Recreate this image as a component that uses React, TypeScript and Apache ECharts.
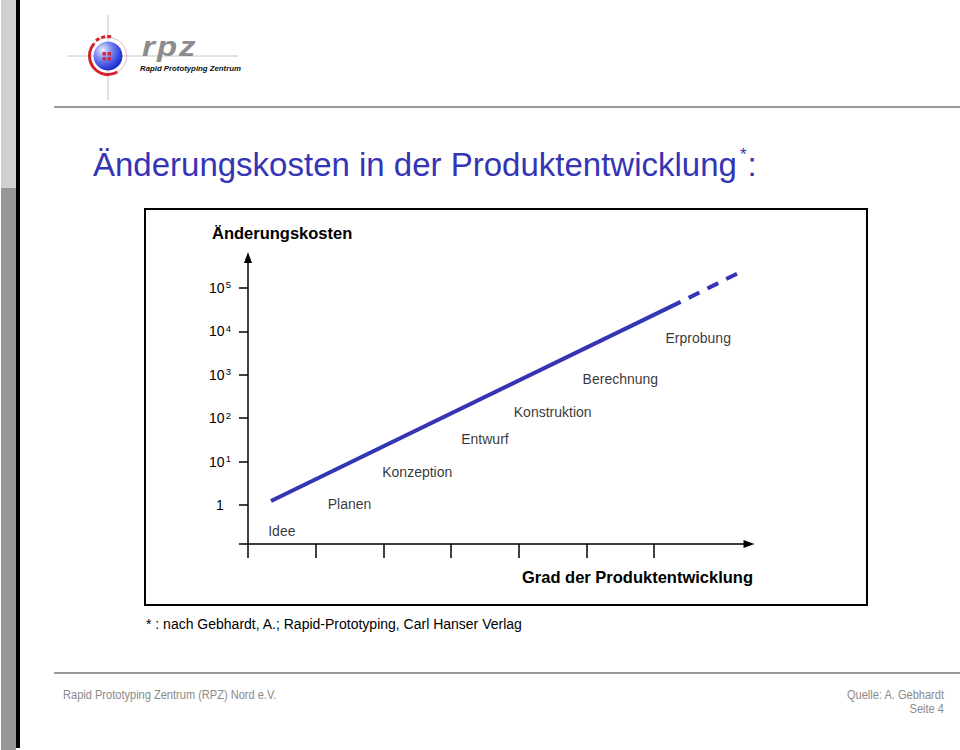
import React, { useEffect, useRef } from 'react';
import * as echarts from 'echarts';

const FONT = '"Liberation Sans", Arial, Helvetica, sans-serif';
const BLUE = '#3434b4';

// phases of product development (labels placed along the staircase)
const phases = ['Idee', 'Planen', 'Konzeption', 'Entwurf', 'Konstruktion', 'Berechnung', 'Erprobung'];
const phaseX = [0.5, 1.5, 2.5, 3.5, 4.5, 5.5, 6.65];
// label height on the cost axis, in powers of ten
const phaseY = [-0.6, 0.02, 0.76, 1.52, 2.14, 2.9, 3.85];

// change cost curve: degree of development vs. log10(cost)
const costX = [0.34, 6.39];
const costExp = [0.09, 4.68];
// extrapolated (dashed) part
const outlookX = [6.39, 7.25];
const outlookExp = [4.68, 5.35];

const yTickValues = [0, 1, 2, 3, 4, 5];
const xTickValues = [0, 1, 2, 3, 4, 5, 6];
const X_MIN = 0;
const X_MAX = 7.4;
const Y_MIN = -0.9;
const Y_MAX = 5.7;

export default function App() {
  const ref = useRef<HTMLDivElement>(null);

  useEffect(() => {
    if (!ref.current) return;
    const chart = echarts.init(ref.current, undefined, { renderer: 'svg' });

    const logoFont = `italic bold 27px ${FONT}`;
    const footFont = `13.5px ${FONT}`;

    const graphic: any[] = [
      // left decorative strips
      { type: 'rect', shape: { x: 1, y: 0, width: 15, height: 188 }, style: { fill: '#d0d0d0' }, silent: true },
      { type: 'rect', shape: { x: 1, y: 188, width: 15, height: 562 }, style: { fill: '#969696' }, silent: true },
      { type: 'rect', shape: { x: 16, y: 0, width: 4, height: 748 }, style: { fill: '#000' }, silent: true },
      // header line & footer line
      { type: 'line', shape: { x1: 54, y1: 107, x2: 960, y2: 107 }, style: { stroke: '#9a9a9a', lineWidth: 2 }, silent: true },
      { type: 'line', shape: { x1: 54, y1: 673, x2: 960, y2: 673 }, style: { stroke: '#9a9a9a', lineWidth: 2 }, silent: true },
      // logo crosshair
      { type: 'line', shape: { x1: 67, y1: 56, x2: 238, y2: 56 }, style: { stroke: '#c4c4c4', lineWidth: 1 }, silent: true },
      { type: 'line', shape: { x1: 108, y1: 15, x2: 108, y2: 100 }, style: { stroke: '#c4c4c4', lineWidth: 1 }, silent: true },
      { type: 'circle', shape: { cx: 108, cy: 56, r: 18.5 }, style: { fill: 'none', stroke: '#e3b8b8', lineWidth: 1 }, silent: true },
      {
        type: 'arc',
        shape: { cx: 108, cy: 56, r: 18.5, startAngle: (60 * Math.PI) / 180, endAngle: (222 * Math.PI) / 180, clockwise: true },
        style: { stroke: '#d8202c', lineWidth: 3, fill: 'none' },
        silent: true,
      },
      {
        type: 'arc',
        shape: { cx: 108, cy: 56, r: 19.5, startAngle: (232 * Math.PI) / 180, endAngle: (280 * Math.PI) / 180, clockwise: true },
        style: { stroke: '#d8202c', lineWidth: 3, fill: 'none', lineDash: [4, 2] },
        silent: true,
      },
      {
        type: 'circle',
        shape: { cx: 108, cy: 56, r: 14.5 },
        style: {
          fill: {
            type: 'radial', x: 0.32, y: 0.3, r: 0.85,
            colorStops: [
              { offset: 0, color: '#f0f0ff' },
              { offset: 0.35, color: '#7f8cf2' },
              { offset: 0.75, color: '#2a3ad8' },
              { offset: 1, color: '#1424b0' },
            ],
          },
        },
        silent: true,
      },
      { type: 'rect', shape: { x: 102.5, y: 52, width: 3.5, height: 3.5 }, style: { fill: '#d42a3c' }, silent: true },
      { type: 'rect', shape: { x: 107.5, y: 52, width: 3.5, height: 3.5 }, style: { fill: '#d42a3c' }, silent: true },
      { type: 'rect', shape: { x: 102.5, y: 57, width: 3.5, height: 3.5 }, style: { fill: '#d42a3c' }, silent: true },
      { type: 'rect', shape: { x: 107.5, y: 57, width: 3.5, height: 3.5 }, style: { fill: '#d42a3c' }, silent: true },
      // logo wordmark
      { type: 'text', x: 142, y: 46.5, scaleX: 1.22, style: { text: 'r', font: logoFont, fill: '#8c8c8c', verticalAlign: 'middle' }, silent: true },
      { type: 'text', x: 157, y: 46.5, scaleX: 1.22, style: { text: 'p', font: logoFont, fill: '#8c8c8c', verticalAlign: 'middle' }, silent: true },
      { type: 'text', x: 179, y: 46.5, scaleX: 1.22, style: { text: 'z', font: logoFont, fill: '#8c8c8c', verticalAlign: 'middle' }, silent: true },
      { type: 'text', x: 140, y: 68.5, style: { text: 'Rapid Prototyping Zentrum', font: `italic bold 7.8px ${FONT}`, fill: '#111', verticalAlign: 'middle' }, silent: true },
      // slide title
      {
        type: 'text', x: 93, y: 164.5,
        style: {
          text: '{t|Änderungskosten in der Produktentwicklung}{s|*}{t|:}',
          verticalAlign: 'middle',
          rich: {
            t: { fontSize: 33, fontFamily: FONT, fill: BLUE, lineHeight: 38 },
            s: { fontSize: 17, fontFamily: FONT, fill: BLUE, lineHeight: 20, verticalAlign: 'top', padding: [0, 1, 0, 3] },
          },
        },
        silent: true,
      },
      // chart frame
      { type: 'rect', shape: { x: 145, y: 209, width: 722, height: 396 }, style: { fill: 'none', stroke: '#000', lineWidth: 2 }, silent: true },
      // axis titles
      { type: 'text', x: 212, y: 232.5, style: { text: 'Änderungskosten', font: `bold 16.5px ${FONT}`, fill: '#000', verticalAlign: 'middle' }, silent: true },
      { type: 'text', x: 753, y: 577, style: { text: 'Grad der Produktentwicklung', font: `bold 16.5px ${FONT}`, fill: '#000', align: 'right', verticalAlign: 'middle' }, silent: true },
      // footnote
      { type: 'text', x: 146, y: 624, style: { text: '* : nach Gebhardt, A.; Rapid-Prototyping, Carl Hanser Verlag', font: `14px ${FONT}`, fill: '#000', verticalAlign: 'middle' }, silent: true },
      // footer (condensed look)
      { type: 'text', x: 63, y: 695, scaleX: 0.82, style: { text: 'Rapid Prototyping Zentrum (RPZ) Nord e.V.', font: footFont, fill: '#8a8a8a', verticalAlign: 'middle' }, silent: true },
      { type: 'text', x: 944, y: 695, scaleX: 0.82, style: { text: 'Quelle: A. Gebhardt', font: footFont, fill: '#8a8a8a', align: 'right', verticalAlign: 'middle' }, silent: true },
      { type: 'text', x: 944, y: 709, scaleX: 0.82, style: { text: 'Seite 4', font: footFont, fill: '#8a8a8a', align: 'right', verticalAlign: 'middle' }, silent: true },
    ];

    const option: any = {
      animation: false,
      backgroundColor: '#fff',
      textStyle: { fontFamily: FONT },
      grid: { left: 248, right: 211, top: 257.6, bottom: 206, containLabel: false },
      xAxis: {
        type: 'value',
        min: X_MIN,
        max: X_MAX,
        axisLine: {
          show: true,
          onZero: false,
          symbol: ['none', 'triangle'],
          symbolSize: [8, 11],
          lineStyle: { color: '#000', width: 1.5 },
        },
        axisTick: { show: true, length: 14, customValues: xTickValues, lineStyle: { color: '#000', width: 1.5 } },
        axisLabel: { show: false },
        splitLine: { show: false },
      },
      yAxis: {
        type: 'value',
        min: Y_MIN,
        max: Y_MAX,
        axisLine: {
          show: true,
          onZero: false,
          symbol: ['none', 'triangle'],
          symbolSize: [8, 11],
          lineStyle: { color: '#000', width: 1.5 },
        },
        axisTick: { show: true, length: 9, customValues: [Y_MIN, ...yTickValues], lineStyle: { color: '#000', width: 1.5 } },
        axisLabel: {
          show: true,
          customValues: yTickValues,
          align: 'center',
          margin: 28,
          formatter: (v: number) => (v === 0 ? '{b|1}' : `{b|10}{s|${v}}`),
          rich: {
            b: { fontSize: 14, fontFamily: FONT, color: '#000', lineHeight: 16 },
            s: { fontSize: 9.5, fontFamily: FONT, color: '#000', lineHeight: 10, verticalAlign: 'top', padding: [0, 0, 0, 1] },
          },
        },
        splitLine: { show: false },
      },
      series: [
        {
          type: 'line',
          data: costX.map((x, i) => [x, costExp[i]]),
          symbol: 'none',
          lineStyle: { color: BLUE, width: 4 },
          silent: true,
          z: 3,
        },
        {
          type: 'line',
          data: outlookX.map((x, i) => [x, outlookExp[i]]),
          symbol: 'none',
          lineStyle: { color: BLUE, width: 4, type: [12, 9], dashOffset: 12 },
          silent: true,
          z: 3,
        },
        {
          type: 'scatter',
          data: phases.map((n, i) => [phaseX[i], phaseY[i], n]),
          symbolSize: 0,
          silent: true,
          label: {
            show: true,
            position: 'inside',
            formatter: (p: any) => p.data[2],
            color: '#000',
            fontSize: 14,
            fontFamily: FONT,
          },
        },
      ],
      graphic,
    };

    chart.setOption(option);
    return () => chart.dispose();
  }, []);

  return (
    <div
      ref={ref}
      style={{ position: 'absolute', left: 0, top: 0, width: 960, height: 750, background: '#fff' }}
    />
  );
}
